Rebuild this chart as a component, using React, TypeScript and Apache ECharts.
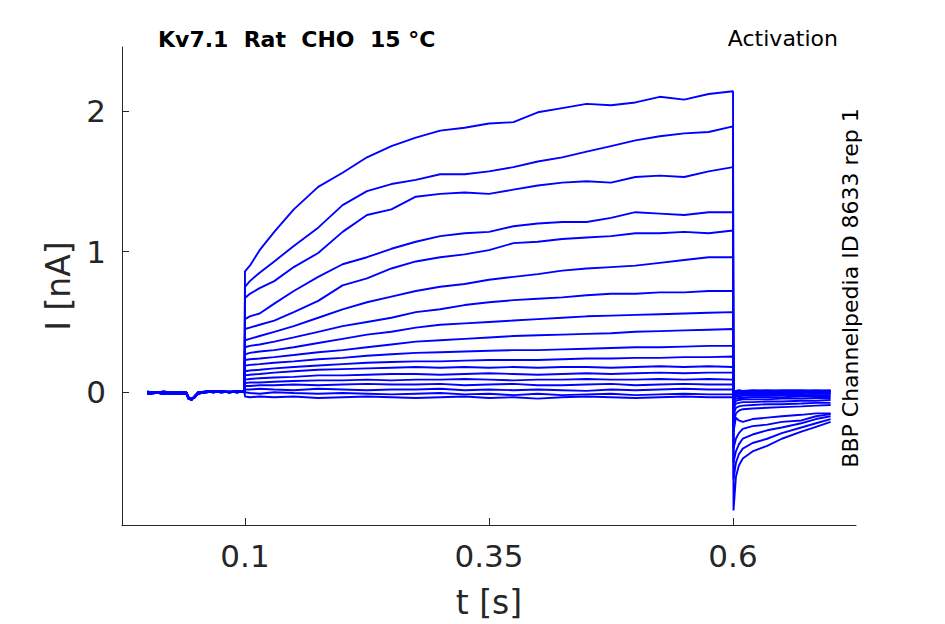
import { useEffect, useRef } from "react";
import * as echarts from "echarts";

// ---- data (t in s, I in nA) ----
const BASE_T = [0, 0.008, 0.016, 0.024, 0.032, 0.04, 0.042, 0.045, 0.048, 0.052, 0.06, 0.068, 0.076, 0.084, 0.092, 0.0995];
const BASE_A = [-0.005, 0.0, -0.01, -0.005, -0.01, -0.005, -0.045, -0.05, -0.035, -0.005, 0.0, 0.005, 0.0, 0.005, 0.0, 0.005];
const BASE_B = [0.005, -0.005, 0.0, -0.01, 0.0, -0.01, -0.04, -0.055, -0.03, 0.0, 0.005, 0.0, 0.01, 0.0, 0.01, 0.0];
const BASE_C = [-0.01, -0.005, 0.005, 0.0, -0.005, 0.0, -0.035, -0.045, -0.04, -0.01, 0.005, 0.01, 0.005, 0.0, 0.005, 0.01];
const BASELINES = [BASE_A, BASE_B, BASE_C];

const STEP_T = [0.1, 0.105, 0.115, 0.13, 0.15, 0.175, 0.2, 0.225, 0.25, 0.275, 0.3, 0.325, 0.35, 0.375, 0.4, 0.425, 0.45, 0.475, 0.5, 0.525, 0.55, 0.575, 0.6];

const STEP_1 = [0.86, 0.9, 1.01, 1.14, 1.3, 1.46, 1.56, 1.67, 1.75, 1.81, 1.86, 1.88, 1.91, 1.92, 1.99, 2.02, 2.05, 2.04, 2.06, 2.1, 2.08, 2.12, 2.14];
const STEP_2 = [0.75, 0.79, 0.85, 0.93, 1.04, 1.17, 1.33, 1.43, 1.48, 1.51, 1.55, 1.55, 1.57, 1.6, 1.64, 1.67, 1.71, 1.75, 1.79, 1.82, 1.84, 1.85, 1.89];
const STEP_3 = [0.67, 0.7, 0.74, 0.79, 0.89, 0.99, 1.14, 1.26, 1.3, 1.39, 1.41, 1.42, 1.41, 1.44, 1.47, 1.49, 1.5, 1.49, 1.53, 1.54, 1.53, 1.57, 1.6];
const STEP_4 = [0.52, 0.54, 0.56, 0.63, 0.72, 0.82, 0.91, 0.96, 1.02, 1.07, 1.11, 1.13, 1.14, 1.18, 1.2, 1.21, 1.21, 1.24, 1.28, 1.27, 1.26, 1.28, 1.28];
const STEP_5 = [0.45, 0.46, 0.48, 0.51, 0.57, 0.65, 0.76, 0.81, 0.88, 0.93, 0.96, 0.98, 1.01, 1.06, 1.07, 1.09, 1.1, 1.11, 1.13, 1.13, 1.14, 1.13, 1.15];
const STEP_6 = [0.37, 0.38, 0.4, 0.43, 0.47, 0.53, 0.59, 0.64, 0.68, 0.72, 0.75, 0.77, 0.8, 0.82, 0.84, 0.865, 0.88, 0.89, 0.9, 0.92, 0.94, 0.96, 0.96];
const STEP_7 = [0.32, 0.33, 0.34, 0.36, 0.39, 0.43, 0.47, 0.5, 0.53, 0.57, 0.59, 0.62, 0.64, 0.655, 0.665, 0.675, 0.69, 0.7, 0.7, 0.71, 0.71, 0.72, 0.72];
const STEP_8 = [0.27, 0.28, 0.29, 0.3, 0.32, 0.35, 0.38, 0.41, 0.43, 0.46, 0.48, 0.49, 0.5, 0.51, 0.52, 0.53, 0.54, 0.545, 0.55, 0.555, 0.56, 0.565, 0.57];
const STEP_9 = [0.23, 0.235, 0.24, 0.25, 0.265, 0.285, 0.3, 0.32, 0.34, 0.36, 0.37, 0.38, 0.39, 0.4, 0.405, 0.41, 0.415, 0.42, 0.43, 0.435, 0.44, 0.445, 0.45];
const STEP_10 = [0.19, 0.195, 0.2, 0.21, 0.22, 0.235, 0.245, 0.26, 0.27, 0.28, 0.285, 0.29, 0.295, 0.3, 0.3, 0.305, 0.31, 0.315, 0.32, 0.32, 0.325, 0.33, 0.33];
const STEP_11 = [0.15, 0.155, 0.16, 0.17, 0.18, 0.19, 0.2, 0.21, 0.215, 0.22, 0.22, 0.225, 0.23, 0.23, 0.23, 0.235, 0.24, 0.24, 0.245, 0.245, 0.25, 0.25, 0.255];
const STEP_12 = [0.12, 0.125, 0.13, 0.14, 0.15, 0.16, 0.165, 0.17, 0.175, 0.18, 0.175, 0.18, 0.175, 0.18, 0.175, 0.18, 0.18, 0.175, 0.18, 0.185, 0.18, 0.185, 0.18];
const STEP_13 = [0.09, 0.095, 0.1, 0.105, 0.11, 0.12, 0.12, 0.125, 0.13, 0.13, 0.125, 0.13, 0.135, 0.13, 0.125, 0.13, 0.135, 0.13, 0.135, 0.14, 0.135, 0.14, 0.14];
const STEP_14 = [0.065, 0.07, 0.07, 0.075, 0.08, 0.085, 0.085, 0.09, 0.085, 0.09, 0.09, 0.095, 0.09, 0.085, 0.09, 0.09, 0.095, 0.09, 0.09, 0.095, 0.09, 0.095, 0.09];
const STEP_15 = [0.045, 0.045, 0.05, 0.05, 0.055, 0.05, 0.055, 0.06, 0.055, 0.055, 0.06, 0.05, 0.055, 0.06, 0.05, 0.05, 0.055, 0.06, 0.05, 0.055, 0.06, 0.055, 0.055];
const STEP_16 = [0.02, 0.02, 0.025, 0.02, 0.015, 0.025, 0.02, 0.015, 0.02, 0.02, 0.025, 0.015, 0.02, 0.015, 0.02, 0.015, 0.01, 0.02, 0.015, 0.02, 0.025, 0.02, 0.02];
const STEP_17 = [0.0, -0.005, -0.01, 0.0, -0.005, -0.01, -0.005, -0.01, -0.015, -0.01, -0.005, -0.015, -0.01, -0.02, -0.01, -0.02, -0.015, -0.01, -0.02, -0.015, -0.01, -0.015, -0.015];
const STEP_18 = [-0.03, -0.035, -0.03, -0.035, -0.03, -0.04, -0.035, -0.03, -0.035, -0.04, -0.035, -0.03, -0.04, -0.035, -0.045, -0.035, -0.03, -0.035, -0.04, -0.035, -0.03, -0.035, -0.035];
const STEPS = [STEP_1, STEP_2, STEP_3, STEP_4, STEP_5, STEP_6, STEP_7, STEP_8, STEP_9, STEP_10, STEP_11, STEP_12, STEP_13, STEP_14, STEP_15, STEP_16, STEP_17, STEP_18];

const TAIL_T = [0.6005, 0.603, 0.606, 0.61, 0.62, 0.635, 0.65, 0.67, 0.685, 0.7];
const TAILS = [
  [-0.84, -0.6, -0.52, -0.47, -0.42, -0.38, -0.33, -0.28, -0.245, -0.21],
  [-0.62, -0.5, -0.44, -0.4, -0.36, -0.33, -0.29, -0.25, -0.22, -0.19],
  [-0.5, -0.42, -0.37, -0.33, -0.3, -0.27, -0.25, -0.22, -0.19, -0.17],
  [-0.4, -0.33, -0.29, -0.26, -0.24, -0.23, -0.21, -0.2, -0.17, -0.155],
  [-0.28, -0.18, -0.2, -0.21, -0.19, -0.18, -0.17, -0.16, -0.15, -0.15],
  [-0.22, -0.15, -0.13, -0.12, -0.115, -0.11, -0.105, -0.1, -0.095, -0.09],
  [-0.16, -0.11, -0.1, -0.095, -0.09, -0.085, -0.085, -0.08, -0.075, -0.075],
  [-0.12, -0.08, -0.075, -0.07, -0.07, -0.065, -0.065, -0.06, -0.06, -0.055],
  [-0.09, -0.06, -0.055, -0.05, -0.05, -0.05, -0.045, -0.045, -0.04, -0.04],
  [-0.07, -0.045, -0.04, -0.04, -0.035, -0.035, -0.035, -0.03, -0.03, -0.03],
  [-0.05, -0.03, -0.03, -0.025, -0.025, -0.025, -0.02, -0.02, -0.02, -0.02],
  [-0.035, -0.02, -0.02, -0.015, -0.015, -0.015, -0.01, -0.015, -0.01, -0.01],
  [-0.025, -0.01, -0.01, -0.01, -0.005, -0.005, -0.005, -0.005, 0.0, -0.005],
  [-0.015, -0.005, 0.0, 0.0, 0.0, 0.005, 0.0, 0.005, 0.0, 0.005],
  [-0.01, 0.0, 0.005, 0.0, 0.005, 0.005, 0.01, 0.005, 0.01, 0.005],
  [-0.005, 0.005, 0.005, 0.01, 0.005, 0.01, 0.01, 0.005, 0.01, 0.01],
  [0.0, 0.01, 0.005, 0.01, 0.01, 0.015, 0.01, 0.01, 0.015, 0.01],
  [0.005, 0.01, 0.015, 0.01, 0.015, 0.01, 0.015, 0.015, 0.01, 0.015],
];

const X_TICKS = [0.1, 0.35, 0.6];
const Y_TICKS = [0, 1, 2];
const X_RANGE = [-0.026, 0.726];
const Y_RANGE = [-0.943, 2.454];

const TITLE = "Kv7.1  Rat  CHO  15 °C";
const SUBTITLE = "Activation";
const SIDE_TEXT = "BBP Channelpedia ID 8633 rep 1";
const X_NAME = "t [s]";
const Y_NAME = "I [nA]";

const FONT = "'DejaVu Sans', 'Liberation Sans', sans-serif";
const AXIS_COLOR = "#262626";

export default function App() {
  const ref = useRef<HTMLDivElement>(null);

  useEffect(() => {
    if (!ref.current) return;
    const chart = echarts.init(ref.current, null, { renderer: "svg" });

    const series = STEPS.map((step, i) => {
      const base = BASELINES[i % BASELINES.length];
      const data = [
        ...BASE_T.map((t, k) => [t, base[k]]),
        ...STEP_T.map((t, k) => [t, step[k]]),
        ...TAIL_T.map((t, k) => [t, TAILS[i][k]]),
      ];
      return {
        type: "line",
        data,
        symbol: "none",
        showSymbol: false,
        silent: true,
        lineStyle: { color: "#0000ff", width: 1.9 },
      };
    });

    chart.setOption({
      animation: false,
      backgroundColor: "#ffffff",
      textStyle: { fontFamily: FONT },
      grid: { left: 122, top: 47, width: 734, height: 479, containLabel: false },
      xAxis: {
        type: "value",
        min: X_RANGE[0],
        max: X_RANGE[1],
        name: X_NAME,
        nameLocation: "middle",
        nameGap: 61,
        nameTextStyle: { fontSize: 33, color: AXIS_COLOR, fontFamily: FONT },
        axisLine: { show: true, onZero: false, lineStyle: { color: AXIS_COLOR, width: 1 } },
        axisTick: { show: true, inside: true, length: 7, customValues: X_TICKS, lineStyle: { color: AXIS_COLOR } },
        axisLabel: { customValues: X_TICKS, fontSize: 31, color: AXIS_COLOR, margin: 15, fontFamily: FONT },
        splitLine: { show: false },
      },
      yAxis: {
        type: "value",
        min: Y_RANGE[0],
        max: Y_RANGE[1],
        name: Y_NAME,
        nameLocation: "middle",
        nameGap: 42,
        nameTextStyle: { fontSize: 33, color: AXIS_COLOR, fontFamily: FONT },
        axisLine: { show: true, onZero: false, lineStyle: { color: AXIS_COLOR, width: 1 } },
        axisTick: { show: true, inside: true, length: 7, customValues: Y_TICKS, lineStyle: { color: AXIS_COLOR } },
        axisLabel: { customValues: Y_TICKS, fontSize: 31, color: AXIS_COLOR, margin: 16, fontFamily: FONT },
        splitLine: { show: false },
      },
      graphic: [
        {
          type: "text",
          left: 158,
          top: 28,
          style: { text: TITLE, fontSize: 22, fontWeight: "bold", fill: "#000", fontFamily: FONT },
        },
        {
          type: "text",
          right: 945 - 838,
          top: 27,
          style: { text: SUBTITLE, fontSize: 22, fill: "#000", fontFamily: FONT },
        },
        {
          type: "text",
          x: 850,
          y: 288,
          rotation: Math.PI / 2,
          style: { text: SIDE_TEXT, fontSize: 22, fill: "#000", fontFamily: FONT, align: "center", verticalAlign: "middle" },
        },
      ],
      series,
    });

    return () => chart.dispose();
  }, []);

  return (
    <div
      ref={ref}
      style={{ position: "fixed", left: 0, top: 0, width: 945, height: 624, background: "#fff" }}
    />
  );
}
